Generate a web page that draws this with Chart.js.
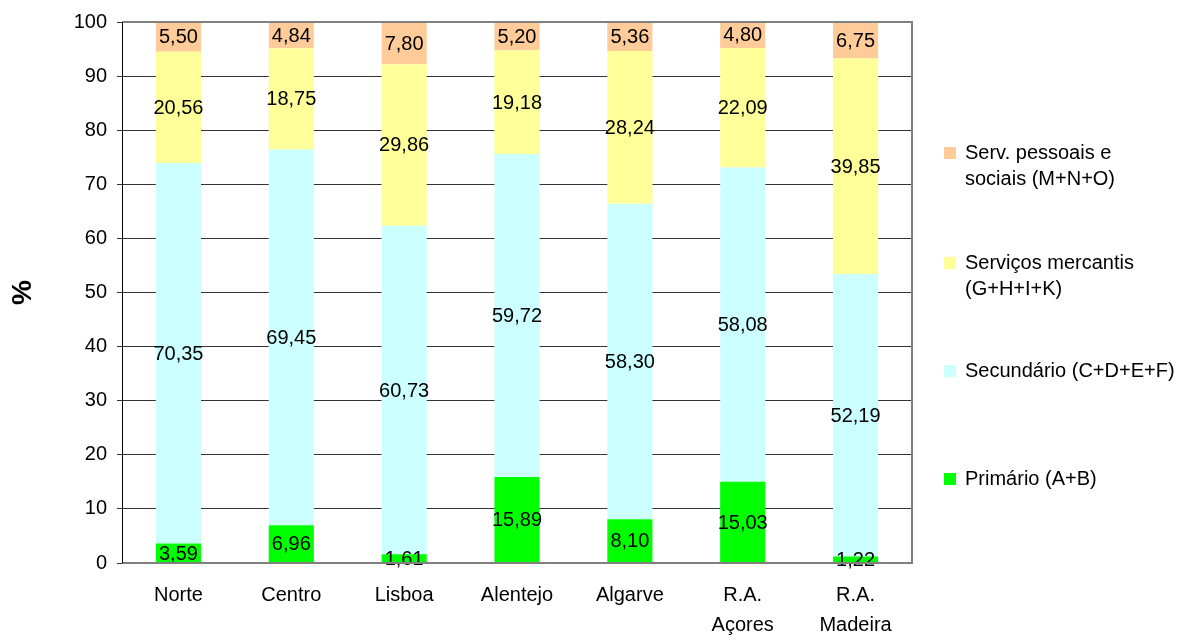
<!DOCTYPE html>
<html>
<head>
<meta charset="utf-8">
<script src="https://cdn.jsdelivr.net/npm/chart.js@4/dist/chart.umd.min.js"></script>
<style>
  body { margin: 0; background: #fff; font-family: "Liberation Sans", Arial, sans-serif; }
  #wrap { position: relative; width: 1192px; height: 635px; }
  .legend-item { position: absolute; left: 944px; font-size: 20px; line-height: 26px; color: #000; }
  .legend-item .box { position: absolute; left: 0; top: 8px; width: 12px; height: 12px; }
  .legend-item .txt { margin-left: 21px; white-space: nowrap; }
</style>
</head>
<body>
<div id="wrap">
  <canvas id="chart"></canvas>
</div>
<script>
const regions = ['Norte', 'Centro', 'Lisboa', 'Alentejo', 'Algarve', ['R.A.', 'Açores'], ['R.A.', 'Madeira']];
const primario = [3.59, 6.96, 1.61, 15.89, 8.10, 15.03, 1.22];
const secundario = [70.35, 69.45, 60.73, 59.72, 58.30, 58.08, 52.19];
const mercantis = [20.56, 18.75, 29.86, 19.18, 28.24, 22.09, 39.85];
const pessoais = [5.50, 4.84, 7.80, 5.20, 5.36, 4.80, 6.75];
const yTicks = [0, 10, 20, 30, 40, 50, 60, 70, 80, 90, 100];

const seriesNames = [
    'Primário (A+B)',
    'Secundário (C+D+E+F)',
    ['Serviços mercantis', '(G+H+I+K)'],
    ['Serv. pessoais e', 'sociais (M+N+O)']
];
const seriesColors = ['#00FF00', '#CCFFFF', '#FFFF99', '#FFCC99'];
const seriesData = [primario, secundario, mercantis, pessoais];

// legend text tops, from top item (pessoais) down to primario
const legendTops = [139, 249, 357, 465];

const fmt = v => v.toFixed(2).replace('.', ',');

const labelPlugin = {
    id: 'segLabels',
    afterDatasetsDraw(chart) {
        const ctx = chart.ctx;
        ctx.save();
        ctx.font = '20px "Liberation Sans", Arial, sans-serif';
        ctx.fillStyle = '#000';
        ctx.textAlign = 'center';
        ctx.textBaseline = 'middle';
        chart.data.datasets.forEach((ds, i) => {
            chart.getDatasetMeta(i).data.forEach((bar, j) => {
                ctx.fillText(fmt(ds.data[j]), bar.x, (bar.y + bar.base) / 2 + 1);
            });
        });
        ctx.restore();
    },
    afterDraw(chart) {
        const a = chart.chartArea;
        const ctx = chart.ctx;
        ctx.save();
        ctx.strokeStyle = '#808080';
        ctx.lineWidth = 2;
        ctx.beginPath();
        ctx.moveTo(a.left, a.top);
        ctx.lineTo(a.right, a.top);
        ctx.lineTo(a.right, a.bottom);
        ctx.lineTo(a.left, a.bottom);
        ctx.stroke();
        ctx.strokeStyle = '#000';
        ctx.lineWidth = 1;
        ctx.beginPath();
        ctx.moveTo(a.left + 0.5, a.top);
        ctx.lineTo(a.left + 0.5, a.bottom);
        ctx.stroke();
        ctx.restore();
    }
};

const chart = new Chart(document.getElementById('chart'), {
    type: 'bar',
    data: {
        labels: regions,
        datasets: seriesData.map((d, i) => ({
            label: seriesNames[i],
            data: d,
            backgroundColor: seriesColors[i],
            borderWidth: 0,
            categoryPercentage: 1,
            barPercentage: 0.4
        }))
    },
    options: {
        responsive: true,
        maintainAspectRatio: false,
        animation: false,
        layout: { padding: { top: 18, right: 280, left: 0, bottom: 0 } },
        plugins: {
            legend: { display: false },
            tooltip: { enabled: false }
        },
        scales: {
            x: {
                stacked: true,
                grid: { display: false, drawTicks: false },
                border: { display: false },
                ticks: {
                    color: '#000',
                    padding: 17,
                    maxRotation: 0,
                    font: { family: '"Liberation Sans", Arial, sans-serif', size: 20, lineHeight: 1.5 }
                },
                afterFit: s => { s.height = 72; }
            },
            y: {
                stacked: true,
                min: 0,
                max: 100,
                afterBuildTicks: s => { s.ticks = yTicks.map(v => ({ value: v })); },
                grid: { color: '#333', tickLength: 5 },
                border: { display: false },
                ticks: {
                    color: '#000',
                    padding: 10,
                    font: { family: '"Liberation Sans", Arial, sans-serif', size: 20 }
                },
                title: {
                    display: true,
                    text: '%',
                    color: '#000',
                    padding: { top: 6, bottom: 0 },
                    font: { family: '"Liberation Sans", Arial, sans-serif', size: 28, weight: 'bold' }
                },
                afterFit: s => { s.width = 122; }
            }
        }
    },
    plugins: [labelPlugin]
});

// HTML legend, top to bottom in reverse stacking order
const wrap = document.getElementById('wrap');
[3, 2, 1, 0].forEach((i, k) => {
    const item = document.createElement('div');
    item.className = 'legend-item';
    item.style.top = legendTops[k] + 'px';
    const name = seriesNames[i];
    const lines = Array.isArray(name) ? name : [name];
    item.innerHTML = '<span class="box" style="background:' + seriesColors[i] + '"></span>' +
        '<div class="txt">' + lines.join('<br>') + '</div>';
    wrap.appendChild(item);
});
</script>
</body>
</html>
